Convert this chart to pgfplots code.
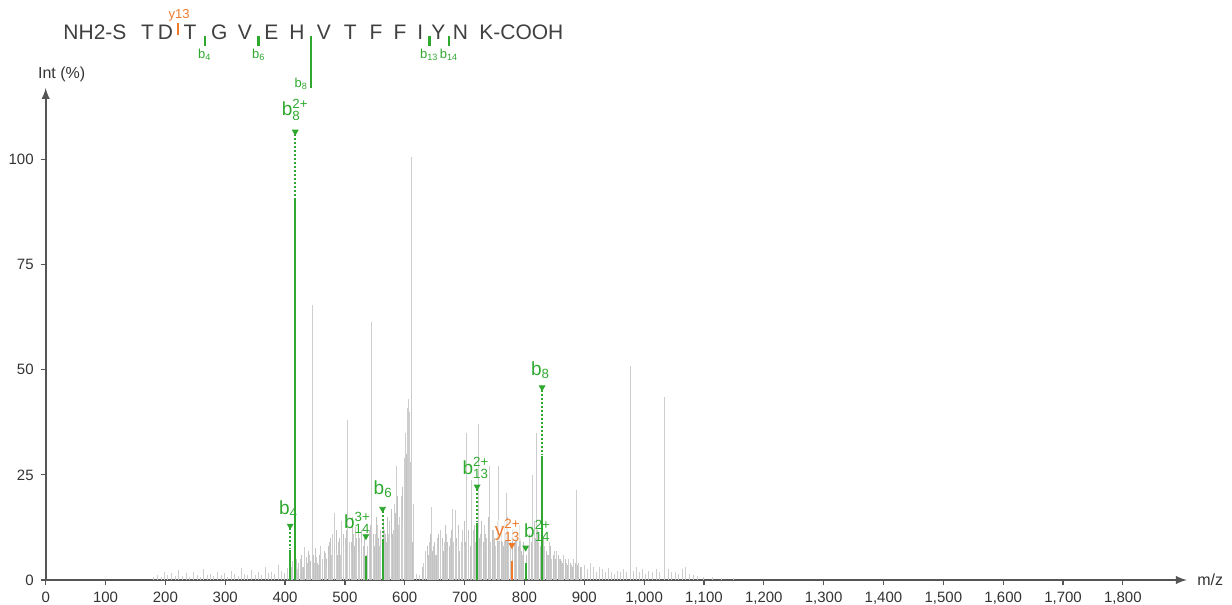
\documentclass[border=0pt]{standalone}
\usepackage{fontspec}
\setmainfont{Liberation Sans}
\usepackage{amsmath}
\usepackage{pgfplots}
\pgfplotsset{compat=1.18}
\definecolor{pk}{HTML}{CDCDCD}
\definecolor{pkf}{HTML}{C2C2C2}
\definecolor{ion}{HTML}{2FA82F}
\definecolor{yion}{HTML}{EE7A2A}
\definecolor{axc}{HTML}{555555}

\begin{document}
\begin{tikzpicture}
\useasboundingbox (-22.85pt,-12.5pt) rectangle (593.15pt,290pt);
\begin{axis}[
    at={(0,0)}, anchor=origin,
    scale only axis, width=570.6pt, height=246pt,
    xmin=0, xmax=1907, ymin=0, ymax=117,
    axis lines=left,
    x axis line style={axc, line width=0.9pt, -latex},
    y axis line style={axc, line width=0.9pt, -latex},
    xtick={0,100,...,1800}, ytick={0,25,50,75,100},
    tick align=outside, major tick length=2.5pt,
    tick style={axc, line width=0.6pt},
    tick label style={font=\fontsize{7.5}{9}\selectfont, text=black!80},
    /pgf/number format/assume math mode=true,
    clip=false,
    unbounded coords=jump,
]
% dense background of small peaks
\addplot[ycomb, pkf, line width=0.35pt] coordinates {
(416,3.5) (419,5) (423,4) (427,6) (431,3) (435,5.5) (439,7) (443,4.5) (447,6)
(451,7.5) (454,4) (458,6) (462,4.5) (465,7) (469,5) (472,8) (476,10) (479,5.5)
(482,8) (485,12) (488,6) (491,10) (494,7) (497,11) (500,6) (503,12) (507,7)
(510,9) (513,15) (516,8) (519,10) (522,13) (524,7) (527,12) (530,8) (533,10)
(536,6) (540,9) (543,13) (547,11) (550,8) (553,15) (556,10) (559,12) (562,7)
(565,14) (568,11) (571,15) (574,9) (577,17) (580,11) (582,14) (585,16) (588,20)
(591,12) (594,18) (596,22) (599,17) (601,24) (603,30) (605,38) (607,33) (609,21)
(611,15) (613,9)
(630,3) (634,5) (637,8) (640,6) (643,11) (646,7) (650,9) (653,6) (656,11) (659,8)
(662,10) (665,7) (668,13) (671,9) (674,8) (678,12) (681,7) (686,10) (689,13)
(692,7) (696,10) (699,14) (702,9) (706,12) (709,8) (711,15) (714,10) (717,13)
(720,8) (725,10) (728,14) (731,9) (735,11) (739,15) (743,8) (746,12) (750,10)
(754,14) (758,9) (761,13) (765,8) (768,11) (772,15) (776,9) (780,12) (785,10)
(789,8) (792,13) (795,7) (799,9) (803,6) (808,11) (811,9) (816,14) (819,10)
(822,12) (827,8) (832,10) (836,7) (840,6) (844,8) (848,6) (852,5) (856,6)
(860,5) (864,4) (868,5) (872,3.5) (876,4) (880,3) (885,4) (889,3.5) (893,3)
};
% unassigned peaks
\addplot[ycomb, pk, line width=0.5pt] coordinates {
(180,0.8) (186,1.2) (193,0.6) (199,2.0) (204,1.1) (211,1.6) (217,0.9) (222,2.3)
(229,1.0) (236,1.7) (241,0.7) (247,2.0) (253,1.3) (259,0.8) (264,2.6) (270,1.2)
(276,1.5) (281,0.9) (287,2.0) (293,1.1) (299,1.7) (304,0.8) (310,2.2) (316,1.4)
(322,1.0) (327,2.8) (333,1.5) (338,1.1) (344,2.4) (350,1.3) (356,2.0) (361,1.2)
(367,3.2) (372,1.6) (378,2.0) (383,1.4) (389,3.5) (394,2.2) (399,1.6) (404,2.8)
(410,3) (413,4.5) (421,2.5) (425,5) (429,3.2) (433,7.9) (437,4) (441,6)
(445,65.3) (449,4) (452,5.5) (456,3.5) (460,8) (463,5) (467,6.5) (470,3.6)
(474,9) (477,6) (480,11) (483,16) (486,7) (489,9) (492,6) (495,14) (498,8)
(501,10) (505,38) (508,9) (511,7) (514,11) (517,12.7) (520,8) (523,6.5)
(525,10) (528,9) (531,7) (538,8) (541,12) (545,61.3) (548,9) (551,11)
(554,13) (557,8) (560,10) (566,12) (569,9) (572,11) (575,14) (578,10)
(581,12) (583,18) (586,27) (589,13) (592,15) (595,20) (597,14) (600,29)
(602,35) (604,41) (606,43) (608,40) (610,28) (612,100.6) (614,18)
(619,1.5) (625,1.2)
(632,4) (635,7) (638,5) (641,9) (645,17.4) (648,8) (651,6) (654,10) (657,7)
(660,12) (663,8) (666,9) (669,11) (672,7) (676,10) (679,17) (682,9)
(684,16.6) (687,8) (690,11) (694,9) (697,12) (700,8) (704,35) (707,10)
(712,23.8) (715,12) (718,9) (723,37) (726,11) (729,8) (733,13) (737,10)
(741,27) (744,9) (748,12) (752,8) (756,27) (759,11) (763,9) (766,14)
(770,20.6) (774,10) (777,8) (783,9) (787,12) (790,7) (793,10) (797,6)
(806,8) (809,10) (814,25) (817,12) (820,35) (824,9) (834,8) (838,6) (842,9)
(846,5) (850,7) (854,7) (858,5) (862,4.5) (866,6) (870,4) (874,5) (878,3.5)
(882,5) (887,21.4) (891,4) (895,3) (900,3.5) (905,2.5) (910,4) (915,3)
(920,2) (925,3) (930,2.5) (935,2) (940,2.8) (945,2) (950,1.5) (955,2.2)
(960,1.8) (965,2.5) (970,2) (977,51) (982,2.2) (988,3) (993,1.8) (998,2.5)
(1003,1.5) (1008,2.2) (1014,1.8) (1020,2.5) (1026,2) (1034,43.5) (1040,2.5)
(1046,1.8) (1052,2) (1058,1.5) (1064,2.5) (1069,3.0) (1075,1.5) (1082,1.2)
(1090,1) (1100,0.8) (1115,0.6) (1130,0.5) (1150,0.4)
};
% assigned b ions
\addplot[ycomb, ion, line width=1pt] coordinates {
(408.5,7.1) (417,90.8) (535,5.7) (563,9.7) (721,13.5) (802,4.0) (829.5,29.5)
};
% assigned y ion
\addplot[ycomb, yion, line width=1pt] coordinates {(779,4.4)};
% dotted leaders
\addplot[ion, densely dotted, line width=1pt] coordinates {
(417,106) (417,91) (408.5,nan) (408.5,12.4) (408.5,7.4) (563,nan)
(563,16.4) (563,10) (721,nan) (721,21.7) (721,13.8) (829.5,nan)
(829.5,45.3) (829.5,29.8)
};
% markers
\addplot[only marks, mark=triangle*, mark size=1.6pt, ion,
    mark options={rotate=180}] coordinates {
(417,106.6) (408.5,12.9) (535,10.4) (563,16.9) (721,22.2) (802,7.7) (829.5,45.8)
};
\addplot[only marks, mark=triangle*, mark size=1.6pt, yion,
    mark options={rotate=180}] coordinates {(779,8.3)};

\begin{scope}[every node/.style={font=\fontsize{9.5}{11}\selectfont, inner sep=0pt}]
\node[ion] at (axis cs:417,111.8) {b$_{\text{8}}^{\text{2+}}$};
\node[ion] at (axis cs:406,16.9) {b$_{\text{4}}$};
\node[ion] at (axis cs:521,13.6) {b$_{\text{14}}^{\text{3+}}$};
\node[ion] at (axis cs:564,21.6) {b$_{\text{6}}$};
\node[ion] at (axis cs:719,26.6) {b$_{\text{13}}^{\text{2+}}$};
\node[ion] at (axis cs:822,11.6) {b$_{\text{14}}^{\text{2+}}$};
\node[yion, fill=white, fill opacity=0.6, text opacity=1] at (axis cs:772,11.8) {y$_{\text{13}}^{\text{2+}}$};
\node[ion] at (axis cs:827,50) {b$_{\text{8}}$};
\end{scope}

\node[anchor=west, inner sep=0pt, font=\fontsize{8}{10}\selectfont, text=black!80]
    at ([xshift=5pt]rel axis cs:1,0) {m/z};
\node[anchor=south, inner sep=0pt, font=\fontsize{8}{10}\selectfont, text=black!80]
    at ([xshift=8pt,yshift=3pt]rel axis cs:0,1) {Int (\%)};

% peptide sequence with fragment sites
\begin{scope}[every node/.style={font=\fontsize{10.5}{12}\selectfont, text=black!75, inner sep=0pt}]
\node[anchor=west] at (axis cs:29,130.2) {NH2-S};
\node at (axis cs:170,130.2) {T};
\node at (axis cs:200,130.2) {D};
\node at (axis cs:241,130.2) {T};
\node at (axis cs:290,130.2) {G};
\node at (axis cs:333,130.2) {V};
\node at (axis cs:377,130.2) {E};
\node at (axis cs:420,130.2) {H};
\node at (axis cs:465,130.2) {V};
\node at (axis cs:509,130.2) {T};
\node at (axis cs:552,130.2) {F};
\node at (axis cs:592,130.2) {F};
\node at (axis cs:626,130.2) {I};
\node at (axis cs:656,130.2) {Y};
\node at (axis cs:693,130.2) {N};
\node[anchor=west] at (axis cs:724,130.2) {K-COOH};
\end{scope}
\draw[yion, line width=1.3pt] (axis cs:221,132.5) -- (axis cs:221,129.6);
\node[yion, inner sep=0pt, font=\fontsize{6.5}{7}\selectfont] at (axis cs:223,134.3) {y13};
\draw[ion, line width=1.3pt] (axis cs:266,129.4) -- (axis cs:266,127.0);
\draw[ion, line width=1.3pt] (axis cs:356,129.4) -- (axis cs:356,127.0);
\draw[ion, line width=1.3pt] (axis cs:443,129.4) -- (axis cs:443,117.0);
\draw[ion, line width=1.3pt] (axis cs:641,129.4) -- (axis cs:641,127.0);
\draw[ion, line width=1.3pt] (axis cs:674,129.4) -- (axis cs:674,127.0);
\begin{scope}[every node/.style={font=\fontsize{6.5}{7}\selectfont, text=ion, inner sep=0pt}]
\node at (axis cs:266,124.8) {b$_{\text{4}}$};
\node at (axis cs:356,124.8) {b$_{\text{6}}$};
\node[anchor=east] at (axis cs:439,118) {b$_{\text{8}}$};
\node at (axis cs:641,124.8) {b$_{\text{13}}$};
\node at (axis cs:674,124.8) {b$_{\text{14}}$};
\end{scope}
\end{axis}
\end{tikzpicture}
\end{document}
